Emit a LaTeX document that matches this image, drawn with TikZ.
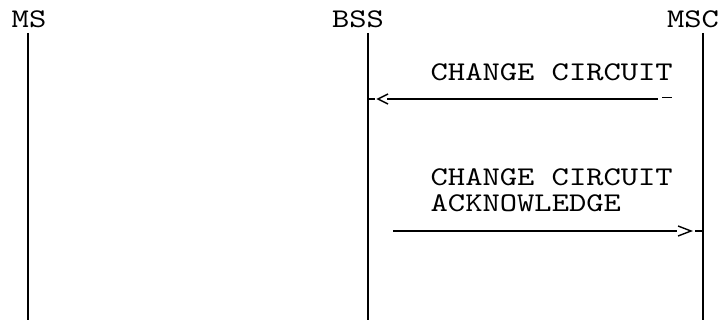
\documentclass[tikz,border=0pt]{standalone}
\usepackage{fontspec}
\newfontfamily\cour[FakeStretch=1.22]{lmmono10-regular.otf}
\usetikzlibrary{positioning,calc}
\tikzset{lbl/.style={font=\cour\fontsize{27}{26}\selectfont,inner sep=0pt}}

\begin{document}
\begin{tikzpicture}[x=1pt,y=-1pt,line width=1.4pt]
\useasboundingbox (0,0) rectangle (723,320);
% Entity names
\node[lbl,anchor=base] (ms) at (29,28) {MS};
\node[lbl,anchor=base] (bss) at (358,28) {BSS};
\node[lbl,anchor=base] (msc) at (693,28) {MSC};
% Vertical lines
\draw (28,33) coordinate (ms1) -- (28,320) coordinate (ms2);
\draw (368,33) coordinate (bss1) -- (368,320) coordinate (bss2);
\draw (703,33) coordinate (msc1) -- (703,320) coordinate (msc2);
% CHANGE CIRCUIT, MSC to BSS
\coordinate (bss3) at (368,99);
\coordinate (msc3) at (703,99);
\node[lbl,anchor=base west] (cc) at (430,81) {CHANGE CIRCUIT};
\draw (bss3) -- +(7,0);
\draw ($(bss3)+(20,-5)$) -- +(-10,5) -- +(0,10);
\draw ($(bss3)+(19,0)$) -- ($(msc3)+(-45,0)$);
\draw ($(msc3)+(-41,-1.5)$) -- ($(msc3)+(-31,-1.5)$);
% CHANGE CIRCUIT ACKNOWLEDGE, BSS to MSC
\coordinate (bss4) at (368,231);
\coordinate (msc4) at (703,231);
\node[lbl,anchor=base west,align=left] (cca) at (430,212) {CHANGE CIRCUIT\\ACKNOWLEDGE};
\draw ($(bss4)+(25,0)$) -- ($(msc4)+(-26,0)$);
\draw ($(msc4)+(-25,-5)$) -- +(13,5) -- +(0,10);
\draw ($(msc4)+(-8,0)$) -- (msc4);
\end{tikzpicture}
\end{document}
